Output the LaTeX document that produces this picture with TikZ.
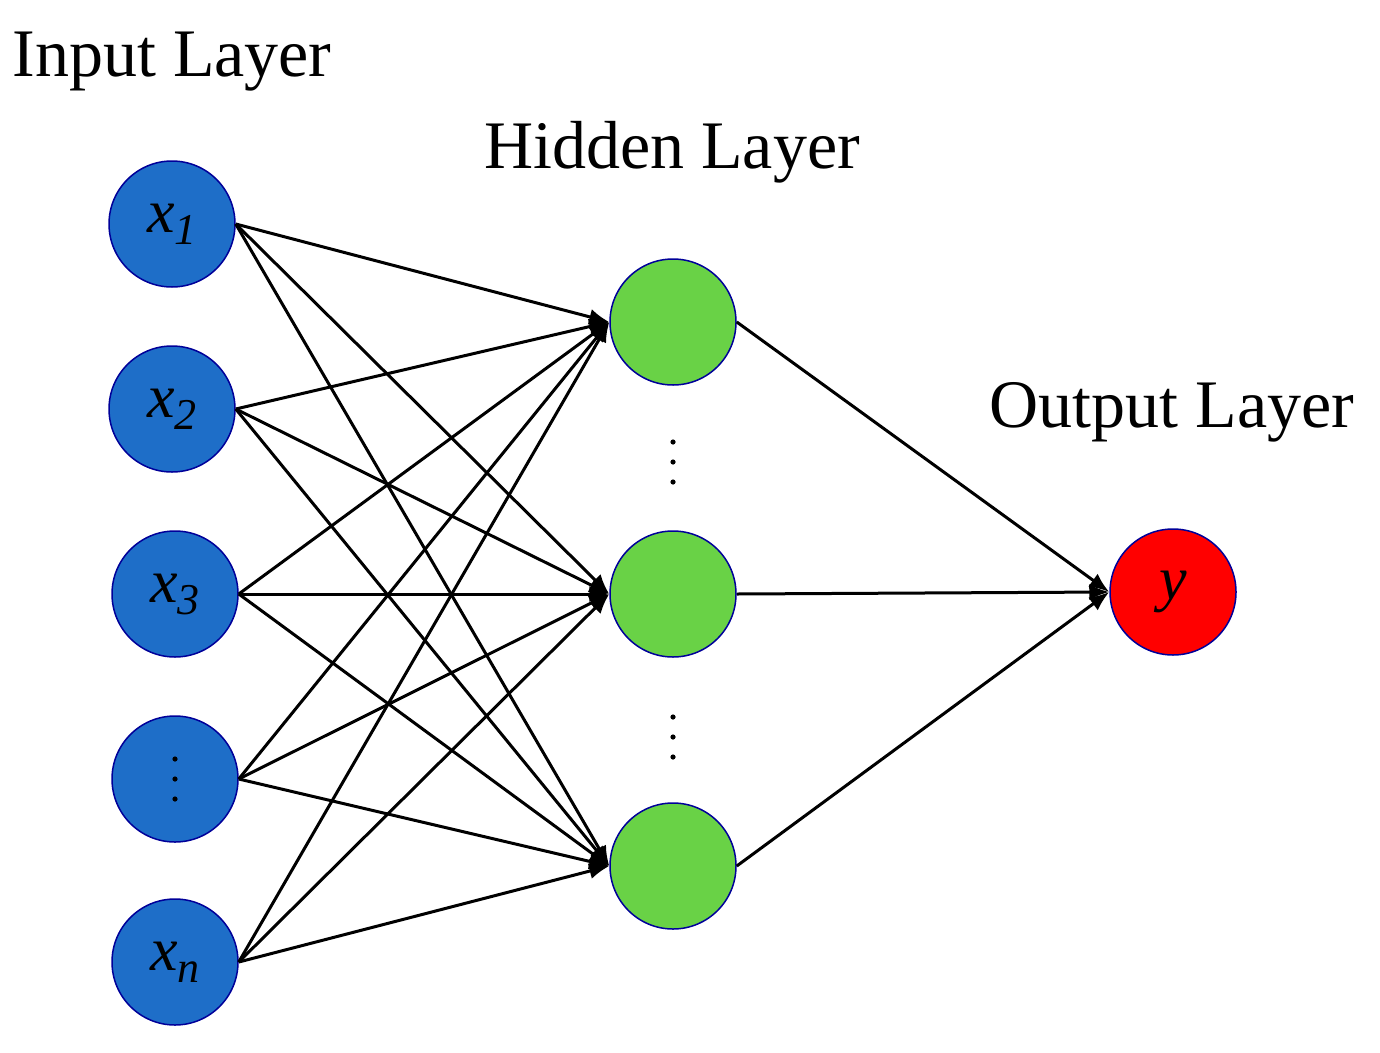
\documentclass[tikz,border=0pt]{standalone}
\usepackage{fontspec}
\setmainfont{Liberation Serif}
\usetikzlibrary{arrows.meta}
\begin{document}
\begin{tikzpicture}[x=1pt,y=-1pt,
  neuron/.style={circle,draw=blue!60!black,line width=1.5pt,minimum size=126pt,inner sep=0pt},
  edge/.style={line width=3pt,-{Latex[length=20pt,width=16pt]}},
  title/.style={font=\fontsize{68}{72}\selectfont},
  lab/.style={font=\fontsize{62}{66}\selectfont\itshape}]
\useasboundingbox (0,0) rectangle (1380,1052);
\definecolor{inblue}{RGB}{30,110,200}
\definecolor{hgreen}{RGB}{105,210,70}
\newcommand{\vdotz}[1]{\foreach \k in {-1,0,1}\fill (#1)++(0,\k*20) circle (2.6pt);}
\node[neuron,fill=inblue] (x1) at (172,224) {};
\node[neuron,fill=inblue] (x2) at (172,409) {};
\node[neuron,fill=inblue] (x3) at (175,594) {};
\node[neuron,fill=inblue] (x4) at (175,779) {};
\node[neuron,fill=inblue] (xn) at (175,962) {};
\node[lab] at (x1) {x\raisebox{-12pt}{\fontsize{44}{44}\selectfont 1}};
\node[lab] at (x2) {x\raisebox{-12pt}{\fontsize{44}{44}\selectfont 2}};
\node[lab] at (x3) {x\raisebox{-12pt}{\fontsize{44}{44}\selectfont 3}};
\node[lab] at (xn) {x\raisebox{-12pt}{\fontsize{44}{44}\selectfont n}};
\vdotz{175,779}
\node[neuron,fill=hgreen] (h1) at (673,322) {};
\node[neuron,fill=hgreen] (h2) at (673,594) {};
\node[neuron,fill=hgreen] (h3) at (673,866) {};
\vdotz{673,462}
\vdotz{673,737}
\node[neuron,fill=red] (y) at (1173,592) {};
\node[lab] at (y) {y};
\node[title] (t1) at (172,62) {Input Layer};
\node[title] (t2) at (672,152) {Hidden Layer};
\node[title] (t3) at (1172,412) {Output Layer};
\foreach \i in {x1,x2,x3,x4,xn}
  \foreach \j in {h1,h2,h3}
    \draw[edge] (\i.east) -- (\j.west);
\foreach \j in {h1,h2,h3}
  \draw[edge] (\j.east) -- (y.west);
\end{tikzpicture}
\end{document}
